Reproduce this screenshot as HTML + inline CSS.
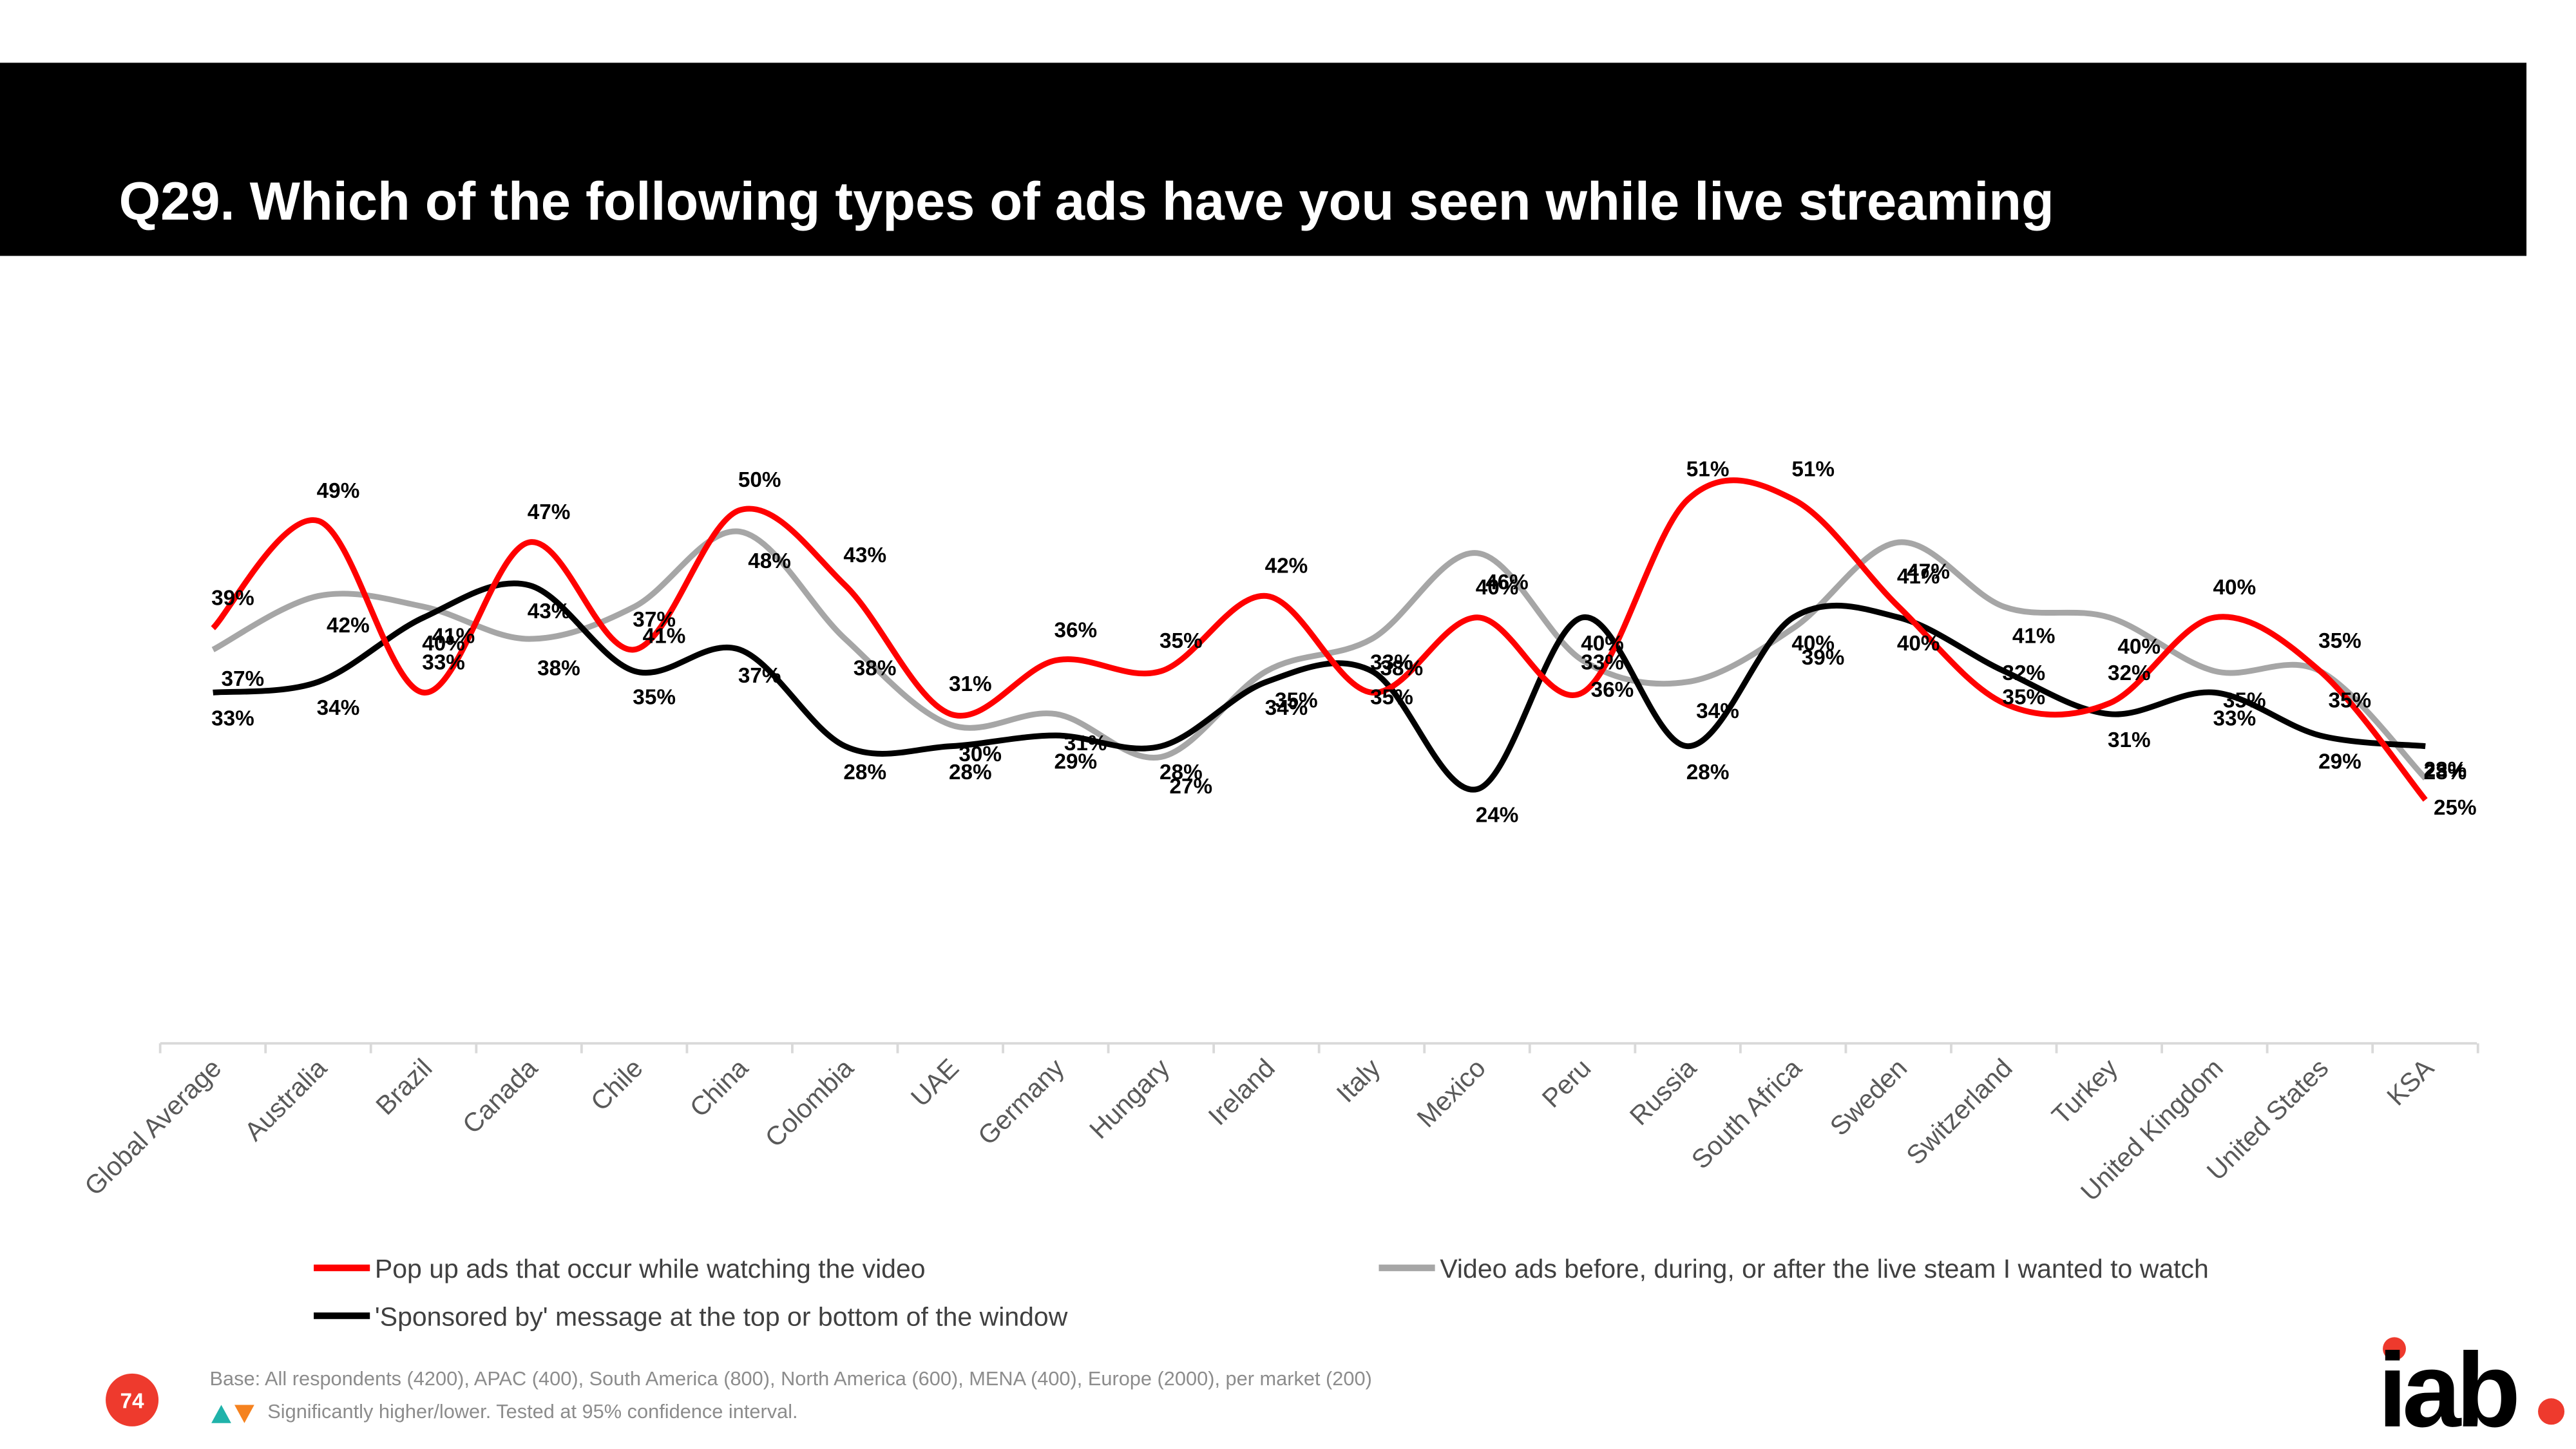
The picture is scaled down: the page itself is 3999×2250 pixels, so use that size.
<!DOCTYPE html>
<html><head><meta charset="utf-8"><style>
html,body{margin:0;padding:0;background:#fff;}
svg{display:block;font-family:"Liberation Sans",Arial,sans-serif;}
</style></head><body>
<svg id="chart" width="3999" height="2250" viewBox="0 0 1560 877.7" xmlns="http://www.w3.org/2000/svg">
<rect x="0" y="38" width="1530" height="117" fill="#000"/>
<text x="72" y="133" fill="#fff" font-size="32.4" font-weight="bold">Q29. Which of the following types of ads have you seen while live streaming</text>
<line x1="97" y1="632" x2="1500" y2="632" stroke="#d9d9d9" stroke-width="1.5"/>
<g id="ticks"></g><g id="cats"></g><g id="lines"></g><g id="labels"></g>
<g>
<line x1="190" y1="768" x2="224" y2="768" stroke="#ff0000" stroke-width="4"/>
<text x="227" y="774" font-size="16" fill="#404040">Pop up ads that occur while watching the video</text>
<line x1="835" y1="768" x2="869" y2="768" stroke="#a6a6a6" stroke-width="4"/>
<text x="872" y="774" font-size="16" fill="#404040">Video ads before, during, or after the live steam I wanted to watch</text>
<line x1="190" y1="797" x2="224" y2="797" stroke="#000" stroke-width="4"/>
<text x="227" y="803" font-size="16" fill="#404040">'Sponsored by' message at the top or bottom of the window</text>
</g>
<circle cx="80" cy="848" r="16" fill="#ee3a2d"/>
<text x="80" y="853" font-size="13" font-weight="bold" fill="#fff" text-anchor="middle">74</text>
<text x="127" y="839" font-size="12" fill="#8c8c8c">Base: All respondents (4200), APAC (400), South America (800), North America (600), MENA (400), Europe (2000), per market (200)</text>
<polygon points="128,862 134,851 140,862" fill="#1fb3aa"/>
<polygon points="142,851 154,851 148,862" fill="#f5821f"/>
<text x="162" y="859" font-size="12" fill="#8c8c8c">Significantly higher/lower. Tested at 95% confidence interval.</text>
<g>
<circle cx="1450" cy="817" r="7" fill="#ee3a2d"/>
<text x="1440" y="864" font-size="64" font-weight="bold" fill="#000" letter-spacing="-3">iab</text>
<circle cx="1545" cy="855" r="8" fill="#ee3a2d"/>
</g>
</svg>
<script>
const categories=["Global Average","Australia","Brazil","Canada","Chile","China","Colombia","UAE","Germany","Hungary","Ireland","Italy","Mexico","Peru","Russia","South Africa","Sweden","Switzerland","Turkey","United Kingdom","United States","KSA"];
const popupAds=[39,49,33,47,37,50,43,31,36,35,42,33,40,33,51,51,41,32,32,40,35,23];
const videoAds=[37,42,41,38,41,48,38,30,31,27,35,38,46,36,34,39,47,41,40,35,35,25];
const sponsored=[33,34,40,43,35,37,28,28,29,28,34,35,24,40,28,40,40,35,31,33,29,28];
const NS="http://www.w3.org/2000/svg";
const x=i=>129+i*63.8;
const y=v=>634-v*6.5;
function mk(tag,attrs,parent){const e=document.createElementNS(NS,tag);for(const k in attrs)e.setAttribute(k,attrs[k]);parent.appendChild(e);return e;}
const ticks=document.getElementById('ticks'),cats=document.getElementById('cats'),lines=document.getElementById('lines'),labels=document.getElementById('labels');
for(let i=0;i<=categories.length;i++){
  const t=mk('line',{x1:97+i*63.8,x2:97+i*63.8,y1:632,y2:638,stroke:'#d9d9d9','stroke-width':1.5},ticks);
  
  
}
categories.forEach((c,i)=>{
  const px=x(i)+6,py=648;
  const t=mk('text',{x:px,y:py,'font-size':16,fill:'#595959','text-anchor':'end',transform:`rotate(-45 ${px} ${py})`},cats);
  t.textContent=c;
  
  
});
function path(vals){
  const p=vals.map((v,i)=>[x(i),y(v)]);
  let d=`M${p[0][0]},${p[0][1]}`;
  for(let i=0;i<p.length-1;i++){
    const p0=p[Math.max(0,i-1)],p1=p[i],p2=p[i+1],p3=p[Math.min(p.length-1,i+2)];
    const c1=[p1[0]+(p2[0]-p0[0])/6,p1[1]+(p2[1]-p0[1])/6];
    const c2=[p2[0]-(p3[0]-p1[0])/6,p2[1]-(p3[1]-p1[1])/6];
    d+=` C${c1[0]},${c1[1]} ${c2[0]},${c2[1]} ${p2[0]},${p2[1]}`;
  }
  return d;
}
const series=[[videoAds,'#a6a6a6','line-video',22],[sponsored,'#000','line-sponsored',20],[popupAds,'#ff0000','line-popup',-14]];
series.forEach(([vals,col,name,off])=>{
  const p=mk('path',{d:path(vals),fill:'none',stroke:col,'stroke-width':3.5},lines);
  
  
  vals.forEach((v,i)=>{
    const t=mk('text',{x:x(i)+(name==='line-video'?18:12),y:y(v)+off,'font-size':13,'font-weight':'bold',fill:'#000','text-anchor':'middle'},labels);
    t.textContent=v+'%';
    
    
  });
});
</script>
</body></html>
